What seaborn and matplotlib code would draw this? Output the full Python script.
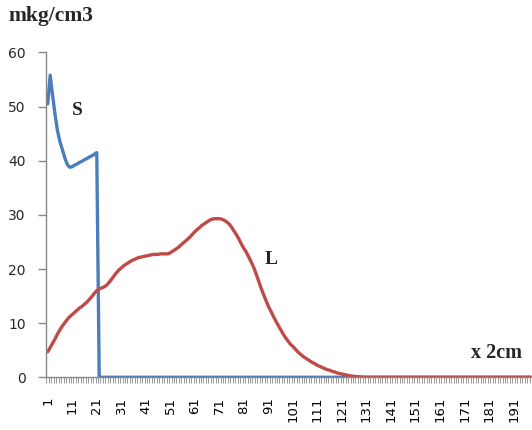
import matplotlib
matplotlib.use("Agg")
import matplotlib.pyplot as plt
import seaborn as sns
import pandas as pd
import numpy as np
from matplotlib.ticker import FixedLocator

# ---------------- data ----------------
categories = list(range(1, 199))

S_values = [50.5, 55.8, 52.0, 48.5, 45.5, 43.5, 42.0, 40.5, 39.3, 38.8,
            38.9, 39.2, 39.4, 39.7, 39.9, 40.2, 40.4, 40.7, 40.9, 41.2,
            41.5, 0, 0, 0, 0, 0, 0, 0, 0, 0,
            0, 0, 0, 0, 0, 0, 0, 0, 0, 0,
            0, 0, 0, 0, 0, 0, 0, 0, 0, 0,
            0, 0, 0, 0, 0, 0, 0, 0, 0, 0,
            0, 0, 0, 0, 0, 0, 0, 0, 0, 0,
            0, 0, 0, 0, 0, 0, 0, 0, 0, 0,
            0, 0, 0, 0, 0, 0, 0, 0, 0, 0,
            0, 0, 0, 0, 0, 0, 0, 0, 0, 0,
            0, 0, 0, 0, 0, 0, 0, 0, 0, 0,
            0, 0, 0, 0, 0, 0, 0, 0, 0, 0,
            0, 0, 0, 0, 0, 0, 0, 0, 0, 0,
            0, 0, 0, 0, 0, 0, 0, 0, 0, 0,
            0, 0, 0, 0, 0, 0, 0, 0, 0, 0,
            0, 0, 0, 0, 0, 0, 0, 0, 0, 0,
            0, 0, 0, 0, 0, 0, 0, 0, 0, 0,
            0, 0, 0, 0, 0, 0, 0, 0, 0, 0,
            0, 0, 0, 0, 0, 0, 0, 0, 0, 0,
            0, 0, 0, 0, 0, 0, 0, 0]

L_values = [4.7, 5.5, 6.3, 7.1, 8.0, 8.8, 9.5, 10.1, 10.7, 11.2,
            11.6, 12.0, 12.4, 12.8, 13.1, 13.5, 13.9, 14.4, 14.9, 15.5,
            16.0, 16.3, 16.5, 16.7, 17.0, 17.5, 18.1, 18.7, 19.3, 19.8,
            20.2, 20.6, 20.9, 21.2, 21.5, 21.7, 21.9, 22.1, 22.2, 22.3,
            22.4, 22.5, 22.6, 22.7, 22.7, 22.7, 22.8, 22.8, 22.8, 22.8,
            23.0, 23.3, 23.6, 23.9, 24.3, 24.7, 25.1, 25.5, 25.9, 26.4,
            26.9, 27.3, 27.7, 28.1, 28.4, 28.7, 29.0, 29.2, 29.3, 29.3,
            29.3, 29.2, 29.0, 28.7, 28.3, 27.7, 27.0, 26.3, 25.5, 24.6,
            23.8, 23.1, 22.2, 21.3, 20.3, 19.1, 17.8, 16.5, 15.3, 14.2,
            13.1, 12.2, 11.3, 10.4, 9.6, 8.8, 8.0, 7.3, 6.7, 6.1,
            5.7, 5.2, 4.7, 4.3, 3.9, 3.6, 3.3, 3.0, 2.7, 2.5,
            2.2, 2.0, 1.8, 1.6, 1.4, 1.3, 1.1, 1.0, 0.8, 0.7,
            0.6, 0.5, 0.4, 0.3, 0.2, 0.2, 0.1, 0.1, 0.05, 0,
            0, 0, 0, 0, 0, 0, 0, 0, 0, 0,
            0, 0, 0, 0, 0, 0, 0, 0, 0, 0,
            0, 0, 0, 0, 0, 0, 0, 0, 0, 0,
            0, 0, 0, 0, 0, 0, 0, 0, 0, 0,
            0, 0, 0, 0, 0, 0, 0, 0, 0, 0,
            0, 0, 0, 0, 0, 0, 0, 0, 0, 0,
            0, 0, 0, 0, 0, 0, 0, 0]

x_tick_labels = [str(v) for v in range(1, 192, 10)]
y_ticks = [0, 10, 20, 30, 40, 50, 60]

series_names = ["S", "L"]
colors = {"S": "#4A7EBB", "L": "#BE4B48"}

# ---------------- plot ----------------
sns.set_style("white")
plt.rcParams["font.family"] = ["DejaVu Sans"]

df = pd.DataFrame({
    "x": categories * 2,
    "value": S_values + L_values,
    "series": ["S"] * len(categories) + ["L"] * len(categories),
})

fig = plt.figure(figsize=(5.32, 4.30), dpi=100)
ax = fig.add_axes([0.0874, 0.1226, 0.9126, 0.7554])

sns.lineplot(data=df, x="x", y="value", hue="series", hue_order=series_names,
             palette=colors, linewidth=2.4, legend=False, ax=ax,
             estimator=None, sort=False)

ax.set_xlim(0.5, 198.5)
ax.set_ylim(0, 60)
ax.set_xlabel("")
ax.set_ylabel("")

sns.despine(ax=ax, top=True, right=True)
for side in ["left", "bottom"]:
    ax.spines[side].set_color("#888888")
    ax.spines[side].set_linewidth(1.0)

# x axis: labels every 10th category, small marks between categories
ax.xaxis.set_major_locator(FixedLocator([int(t) for t in x_tick_labels]))
ax.set_xticklabels(x_tick_labels, rotation=90, fontsize=9.5)
ax.xaxis.set_minor_locator(FixedLocator(np.arange(0.5, 199, 1.0)))
ax.tick_params(axis="x", which="major", length=0, pad=14, colors="#000000")
ax.tick_params(axis="x", which="minor", length=4, width=0.7, color="#999999",
               direction="out", bottom=True)
for lab in ax.get_xticklabels():
    lab.set_verticalalignment("top")

ax.set_yticks(y_ticks)
ax.set_yticklabels([str(v) for v in y_ticks], fontsize=10)
ax.tick_params(axis="y", which="major", length=6, width=1.0, color="#888888",
               pad=9, direction="out", left=True)

serif = ["Liberation Serif", "DejaVu Serif"]
ax.text(13.0, 49.2, "S", fontsize=14, fontweight="bold", family=serif,
        ha="center", va="center")
ax.text(92.3, 21.7, "L", fontsize=14, fontweight="bold", family=serif,
        ha="center", va="center")
ax.text(184.0, 4.4, "x 2cm", fontsize=14.5, fontweight="bold", family=serif,
        ha="center", va="center")
fig.text(0.015, 0.962, "mkg/cm3", fontsize=15.5, fontweight="bold",
         family=serif, ha="left", va="center")

fig.savefig("out.png", dpi=100)
